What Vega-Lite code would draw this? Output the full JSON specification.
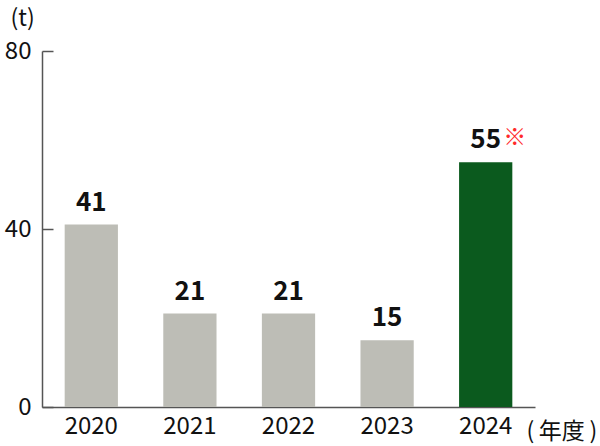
{
  "$schema": "https://vega.github.io/schema/vega-lite/v6.json",
  "width": 493,
  "height": 356,
  "autosize": "none",
  "padding": {"left": 42, "top": 51, "right": 65, "bottom": 39},
  "background": "white",
  "config": {"view": {"stroke": null}, "font": "Noto Sans CJK JP"},
  "data": {"values": [
    {"year": "2020", "value": 41, "highlight": "no", "note": ""},
    {"year": "2021", "value": 21, "highlight": "no", "note": ""},
    {"year": "2022", "value": 21, "highlight": "no", "note": ""},
    {"year": "2023", "value": 15, "highlight": "no", "note": ""},
    {"year": "2024", "value": 55, "highlight": "yes", "note": "※"}
  ]},
  "encoding": {
    "x": {"field": "year", "type": "nominal", "sort": null,
      "scale": {"paddingInner": 0.46, "paddingOuter": 0.23},
      "axis": {"labelAngle": 0, "labelFontSize": 24, "labelColor": "#111", "labelPadding": 7,
        "ticks": false, "domainColor": "#555", "domainWidth": 1.5,
        "title": "(\u2009年度\u2009)", "titleFontSize": 23, "titleFontWeight": "normal", "titleColor": "#111",
        "titleAnchor": "start", "titleAlign": "left", "titleX": 484, "titleY": 31, "titleBaseline": "alphabetic"}},
    "y": {"field": "value", "type": "quantitative",
      "scale": {"domain": [0, 80]},
      "axis": {"values": [0, 40, 80], "labelFontSize": 24, "labelColor": "#111", "labelPadding": 22,
        "tickSize": -11, "tickColor": "#555", "tickWidth": 1.5, "domainColor": "#555", "domainWidth": 1.5,
        "grid": false,
        "title": "(t)", "titleAngle": 0, "titleFontSize": 23, "titleFontWeight": "normal", "titleColor": "#111",
        "titleAlign": "left", "titleX": -32, "titleY": -26, "titleBaseline": "alphabetic"}}
  },
  "layer": [
    {"mark": {"type": "bar"},
      "encoding": {"color": {"field": "highlight", "type": "nominal",
        "scale": {"domain": ["no", "yes"], "range": ["#bdbdb6", "#0b5a1e"]}, "legend": null}}},
    {"mark": {"type": "text", "fontSize": 26, "fontWeight": "bold", "dy": -14, "baseline": "alphabetic", "color": "#111"},
      "encoding": {"text": {"field": "value", "type": "quantitative"}}},
    {"mark": {"type": "text", "fontSize": 23, "dy": -17, "dx": 29, "baseline": "alphabetic", "color": "#ff2a2a"},
      "encoding": {"text": {"field": "note", "type": "nominal"}}}
  ]
}
